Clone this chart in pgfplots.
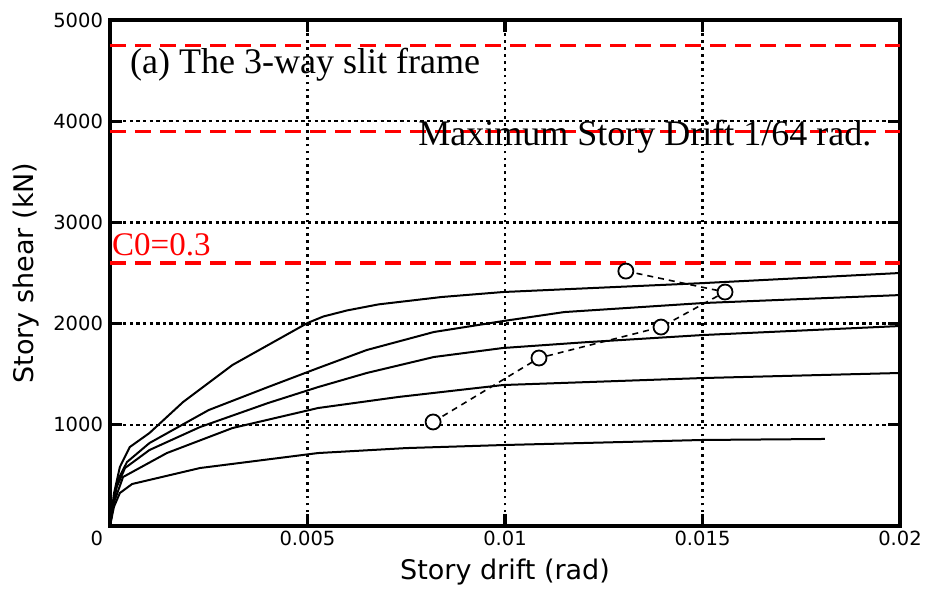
\documentclass[border=0pt]{standalone}
\usepackage{pgfplots}
\pgfplotsset{compat=1.18}
\usepackage{fontspec}
\setmainfont{Liberation Serif}
\newfontfamily\dvs{DejaVu Sans}
\begin{document}
\begin{tikzpicture}
\begin{axis}[
  scale only axis, width=790pt, height=506pt,
  xmin=0, xmax=0.02, ymin=0, ymax=5000,
  scaled x ticks=false, scaled y ticks=false,
  unbounded coords=jump,
  xtick={0,0.005,0.01,0.015,0.02},
  xticklabels={\makebox[0pt][r]{0\hspace{7pt}},0.005,0.01,0.015,0.02},
  ytick={1000,2000,3000,4000,5000},
  yticklabels={1000,2000,3000,4000,5000},
  tick label style={font=\dvs\fontsize{19.5}{20}\selectfont},
  yticklabel style={xshift=-3.5pt},
  xticklabel style={yshift=-1.5pt},
  tick align=inside, major tick length=0pt,
  axis line style={line width=3.5pt},
  xlabel={Story drift (rad)}, ylabel={Story shear (kN)},
  label style={font=\dvs\fontsize{27}{28}\selectfont},
  xlabel style={at={(axis description cs:0.5,-0.1067)}, anchor=base},
  ylabel style={at={(axis description cs:-0.1063,0.5)}, anchor=center},
]
% grid lines
\addplot[black, line width=2.7pt, dash pattern=on 2.7pt off 4.2pt] coordinates {
 (0.005,0) (0.005,5000) (nan,nan) (0.01,0) (0.01,5000) (nan,nan) (0.015,0) (0.015,5000)};
\addplot[black, line width=2.4pt, dash pattern=on 3.3pt off 3.3pt] coordinates {
 (0,1000) (0.02,1000) (nan,nan) (0,2000) (0.02,2000) (nan,nan) (0,3000) (0.02,3000) (nan,nan) (0,4000) (0.02,4000)};
% tick marks (inside)
\addplot[black, line width=3.2pt] coordinates {
 (0.005,0) (0.005,120) (nan,nan) (0.01,0) (0.01,120) (nan,nan) (0.015,0) (0.015,120) (nan,nan)
 (0.005,5000) (0.005,4880) (nan,nan) (0.01,5000) (0.01,4880) (nan,nan) (0.015,5000) (0.015,4880) (nan,nan)
 (0,1000) (0.0003,1000) (nan,nan) (0,2000) (0.0003,2000) (nan,nan) (0,3000) (0.0003,3000) (nan,nan) (0,4000) (0.0003,4000) (nan,nan)
 (0.02,1000) (0.0197,1000) (nan,nan) (0.02,2000) (0.0197,2000) (nan,nan) (0.02,3000) (0.0197,3000) (nan,nan) (0.02,4000) (0.0197,4000)};
% red reference lines
\addplot[red, line width=2.8pt, dash pattern=on 16pt off 9pt] coordinates {(0,4750) (0.02,4750)};
\addplot[red, line width=2.8pt, dash pattern=on 16pt off 9pt] coordinates {(0,3900) (0.02,3900)};
\addplot[red, line width=3.8pt, dash pattern=on 16pt off 9pt] coordinates {(0,2600) (0.02,2600)};
% curves
\addplot[black, line width=2pt] coordinates {
 (0,0) (0.0001,320) (0.00025,583) (0.0005,780) (0.001,919) (0.00185,1225) (0.0031,1591) (0.005,2006) (0.0054,2070) (0.006,2130) (0.0068,2190) (0.0084,2263) (0.00995,2312) (0.015,2400) (0.02,2500)};
\addplot[black, line width=2pt] coordinates {
 (0,0) (0.0001,260) (0.0002,454) (0.00043,632) (0.001,820) (0.0025,1146) (0.004,1373) (0.00527,1561) (0.0065,1739) (0.0082,1917) (0.00995,2025) (0.0115,2114) (0.015,2203) (0.02,2282)};
\addplot[black, line width=2pt] coordinates {
 (0,0) (0.00008,220) (0.00017,385) (0.00038,573) (0.001,751) (0.00228,978) (0.004,1215) (0.00527,1373) (0.0065,1512) (0.0082,1670) (0.00995,1759) (0.012,1815) (0.015,1887) (0.02,1976)};
\addplot[black, line width=2pt] coordinates {
 (0,0) (0.00008,210) (0.00033,484) (0.00144,721) (0.0031,968) (0.00527,1166) (0.0073,1275) (0.00995,1393) (0.015,1462) (0.02,1512)};
\addplot[black, line width=2pt] coordinates {
 (0,0) (0.0001,190) (0.00025,326) (0.00056,415) (0.00228,573) (0.00527,721) (0.0075,770) (0.00995,800) (0.015,850) (0.0181,860)};
% maximum response points
\addplot[black, line width=1.6pt, dash pattern=on 6pt off 5pt, mark=*, mark size=7.5pt,
  mark options={solid, fill=white, draw=black, line width=1.8pt}] coordinates {
 (0.00818,1028) (0.01086,1660) (0.01395,1966) (0.01557,2312) (0.01306,2519)};
% annotations
\node[anchor=base west, inner sep=0pt, font=\fontsize{36}{36}\selectfont] at (axis cs:0.000506,4476) {(a) The 3-way slit frame};
\node[anchor=base west, inner sep=0pt, font=\fontsize{36}{36}\selectfont] at (axis cs:0.0078,3755) {Maximum Story Drift 1/64 rad.};
\node[anchor=base west, inner sep=0pt, text=red, font=\fontsize{33}{33}\selectfont] at (axis cs:0.00005,2677) {C0=0.3};
\end{axis}
\pgfresetboundingbox
\useasboundingbox (-110pt,-63pt) rectangle (815pt,526pt);
\end{tikzpicture}
\end{document}
